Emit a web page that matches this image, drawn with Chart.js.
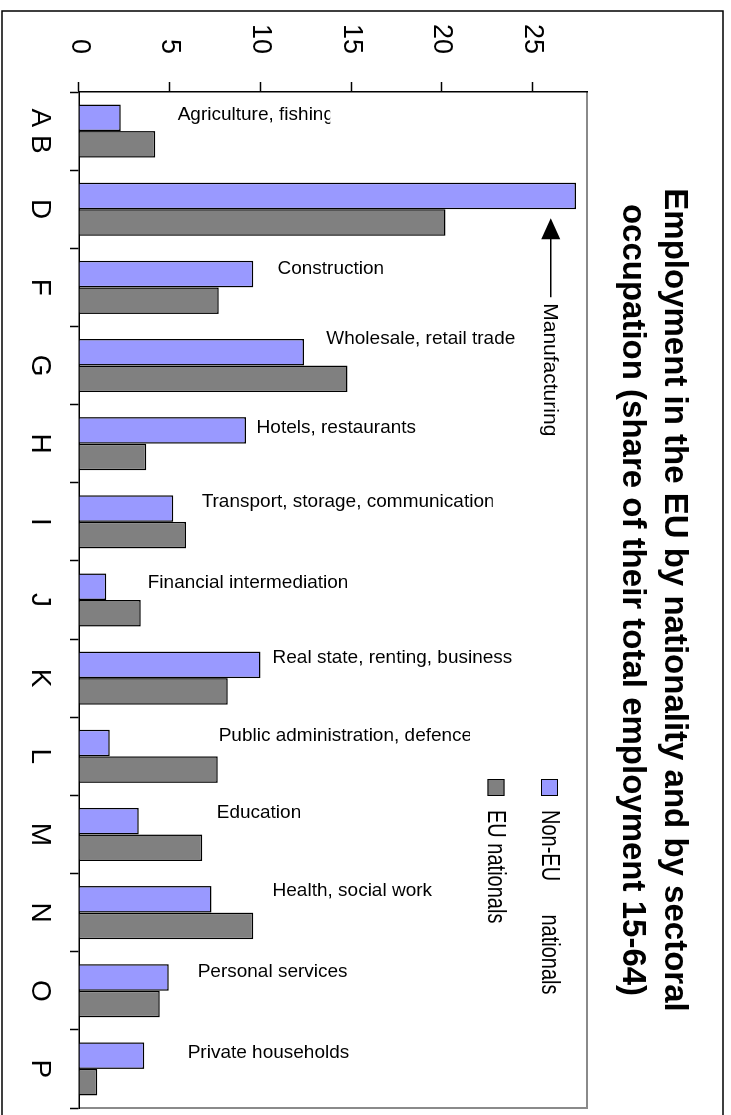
<!DOCTYPE html>
<html><head><meta charset="utf-8">
<script src="https://cdn.jsdelivr.net/npm/chart.js@4.4.0/dist/chart.umd.min.js"></script>
<style>
html,body{margin:0;padding:0;background:#fff;overflow:hidden;width:731px;height:1115px;}
#wrap{position:absolute;left:0;top:0;width:1115px;height:731px;transform-origin:0 0;transform:translate(731px,0) rotate(90deg);}
canvas{display:block;}
</style></head><body>
<div id="wrap"><canvas id="c" width="1115" height="731"></canvas></div>
<script>
// ---- data ----
const categories = ['A B','D','F','G','H','I','J','K','L','M','N','O','P'];
const sectorNames = ['Agriculture, fishing','Manufacturing','Construction','Wholesale, retail trade','Hotels, restaurants','Transport, storage, communication','Financial intermediation','Real state, renting, business','Public administration, defence','Education','Health, social work','Personal services','Private households'];
const nonEUNationals = [2.3, 27.4, 9.6, 12.4, 9.2, 5.2, 1.5, 10.0, 1.7, 3.3, 7.3, 4.95, 3.6];
const euNationals = [4.2, 20.2, 7.7, 14.8, 3.7, 5.9, 3.4, 8.2, 7.65, 6.8, 9.6, 4.45, 1.0];
const seriesNames = ['Non-EU      nationals', 'EU nationals'];
const valueTicks = [0, 5, 10, 15, 20, 25];
const titleLines = ['Employment in the EU by nationality and by sectoral', 'occupation (share of their total employment 15-64)'];

const FONT = "'Liberation Sans', Arial, sans-serif";
Chart.defaults.font.family = FONT;
Chart.defaults.color = '#000';

// note placement (value-axis start, offset from category centre in px, optional clip end)
const notePlacement = [
  {at:5.44, dy:-16, end:13.85}, null, {at:10.94, dy:-19}, {at:13.63, dy:-27}, {at:9.79, dy:-16},
  {at:6.76, dy:-20, end:22.8}, {at:3.79, dy:-17}, {at:10.67, dy:-20}, {at:7.70, dy:-21, end:21.55},
  {at:7.59, dy:-22}, {at:10.67, dy:-22}, {at:6.54, dy:-19}, {at:5.99, dy:-16}
];

const framePlugin = {
  id:'frame',
  beforeDraw(chart){
    const c = chart.ctx, a = chart.chartArea;
    c.save();
    c.fillStyle = '#fff'; c.fillRect(0,0,chart.width,chart.height);
    c.strokeStyle = '#000'; c.lineWidth = 1.5;
    c.strokeRect(11, 8, 1400, 721);
    c.strokeStyle = '#8a8a8a'; c.lineWidth = 2;
    c.beginPath(); c.moveTo(a.left, a.top); c.lineTo(a.right, a.top); c.lineTo(a.right, a.bottom); c.stroke();
    c.restore();
  }
};

const notesPlugin = {
  id:'notes',
  afterDatasetsDraw(chart){
    const c = chart.ctx, xs = chart.scales.x, ys = chart.scales.y, a = chart.chartArea;
    c.save();
    c.fillStyle = '#000';
    c.font = "19px " + FONT;
    c.textAlign = 'left'; c.textBaseline = 'middle';
    sectorNames.forEach((name, i) => {
      const p = notePlacement[i];
      if (!p) return;
      const u = xs.getPixelForValue(i) + p.dy;
      const v = ys.getPixelForValue(p.at);
      c.save();
      c.translate(u, v);
      c.rotate(-Math.PI/2);
      if (p.end) { const len = ys.getPixelForValue(p.at) - ys.getPixelForValue(p.end); c.beginPath(); c.rect(-2, -20, len + 2, 40); c.clip(); }
      c.fillText(name, 0, 0);
      c.restore();
    });
    // Manufacturing arrow (category index 1)
    const tipU = xs.getPixelForValue(1) + 9;
    const v = ys.getPixelForValue(26.0);
    c.beginPath(); c.moveTo(tipU, v); c.lineTo(tipU + 21, v - 9.5); c.lineTo(tipU + 21, v + 9.5); c.closePath(); c.fill();
    c.strokeStyle = '#000'; c.lineWidth = 1.5;
    c.beginPath(); c.moveTo(tipU + 20, v); c.lineTo(tipU + 79, v); c.stroke();
    c.font = "21px " + FONT;
    c.fillText(sectorNames[1], tipU + 85, v + 1);
    // legend
    const ds = chart.data.datasets;
    c.font = "25px " + FONT;
    ds.forEach((d, i) => {
      const cv = a.top + 37.5 + i * 53.5;
      c.fillStyle = d.backgroundColor; c.fillRect(779, cv - 8.5, 17, 17);
      c.strokeStyle = '#000'; c.lineWidth = 1; c.strokeRect(779.5, cv - 8, 16, 16);
      c.save();
      c.translate(810, cv + 1); c.scale(0.8, 1);
      c.fillStyle = '#000'; c.fillText(d.label, 0, 0);
      c.restore();
    });
    c.restore();
  }
};

new Chart(document.getElementById('c'), {
  type:'bar',
  data:{
    labels: categories,
    datasets:[
      {label: seriesNames[0], data: nonEUNationals, backgroundColor:'#9999FF', borderColor:'#000', borderWidth:1.5},
      {label: seriesNames[1], data: euNationals, backgroundColor:'#808080', borderColor:'#000', borderWidth:1.5}
    ]
  },
  options:{
    responsive:false, animation:false, devicePixelRatio:1,
    layout:{padding:{left:0, right:7, top:0, bottom:0}},
    datasets:{bar:{categoryPercentage:0.68, barPercentage:1}},
    plugins:{
      legend:{display:false}, tooltip:{enabled:false},
      title:{display:true, fullSize:false, text:titleLines, color:'#000', font:{family:FONT, size:33, weight:'bold', lineHeight:42/33}, padding:{top:36, bottom:24}}
    },
    scales:{
      x:{
        grid:{display:true, drawOnChartArea:false, offset:true, tickLength:9, color:'#000', tickWidth:1.5},
        border:{color:'#000', width:1.5},
        ticks:{color:'#000', font:{size:28}, padding:13, maxRotation:0, autoSkip:false},
        afterFit(s){ s.height = 79; }
      },
      y:{
        min:0, max:28,
        afterBuildTicks(s){ s.ticks = valueTicks.map(v => ({value:v})); },
        grid:{display:true, drawOnChartArea:false, tickLength:10, color:'#000', tickWidth:1.5},
        border:{color:'#000', width:1.5},
        ticks:{color:'#000', font:{size:27}, padding:28, autoSkip:false, callback:(v) => String(v)},
        afterFit(s){ s.width = 92; }
      }
    }
  },
  plugins:[framePlugin, notesPlugin]
});
</script>
</body></html>
